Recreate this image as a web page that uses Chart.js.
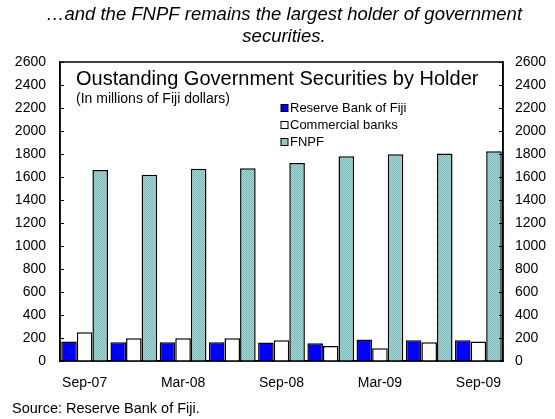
<!DOCTYPE html>
<html>
<head>
<meta charset="utf-8">
<script src="https://cdn.jsdelivr.net/npm/chart.js@4/dist/chart.umd.min.js"></script>
<style>
  html, body { margin: 0; padding: 0; background: #fff; }
  #wrap { width: 555px; height: 419px; position: relative; }
</style>
</head>
<body>
<div id="wrap"><canvas id="chart" width="555" height="419"></canvas></div>
<script>
// quarterly data, millions of Fiji dollars
const quarters = ['Sep-07', 'Dec-07', 'Mar-08', 'Jun-08', 'Sep-08', 'Dec-08', 'Mar-09', 'Jun-09', 'Sep-09'];
const reserveBank = [170, 163, 163, 163, 160, 155, 188, 180, 180];
const commercialBanks = [250, 197, 197, 197, 180, 130, 110, 163, 170];
const fnpf = [1660, 1620, 1672, 1677, 1722, 1780, 1797, 1805, 1825];
const seriesNames = ['Reserve Bank of Fiji', 'Commercial banks', 'FNPF'];
const yMax = 2600;
const yStep = 200;

const headline = ['\u2026and the FNPF remains the largest holder of government', 'securities.'];
const innerTitle = 'Oustanding Government Securities by Holder';
const innerSubtitle = '(In millions of Fiji dollars)';
const sourceNote = 'Source: Reserve Bank of Fiji.';

const FONT = '"Liberation Sans", Arial, sans-serif';

// dotted teal fill like the original
function makePattern() {
    const c = document.createElement('canvas');
    c.width = 2; c.height = 2;
    const g = c.getContext('2d');
    g.fillStyle = '#a9d3d3';
    g.fillRect(0, 0, 2, 2);
    g.fillStyle = '#7dbcbc';
    g.fillRect(0, 0, 1, 1);
    g.fillRect(1, 1, 1, 1);
    return g.createPattern(c, 'repeat');
}
const tealFill = makePattern();
const fills = ['#0000ff', '#ffffff', tealFill];

const decorations = {
    id: 'decorations',
    afterDraw(chart) {
        const ctx = chart.ctx;
        const a = chart.chartArea;
        ctx.save();

        // plot frame
        ctx.strokeStyle = '#000';
        ctx.lineWidth = 1.5;
        ctx.strokeRect(a.left, a.top, a.right - a.left, a.bottom - a.top);

        // inward tick marks on both value axes
        const y = chart.scales.y;
        ctx.lineWidth = 1;
        y.ticks.forEach(t => {
            const py = Math.round(y.getPixelForValue(t.value)) + 0.5;
            ctx.beginPath();
            ctx.moveTo(a.left, py); ctx.lineTo(a.left + 4, py);
            ctx.moveTo(a.right, py); ctx.lineTo(a.right - 4, py);
            ctx.stroke();
        });

        // headline
        ctx.fillStyle = '#000';
        ctx.textAlign = 'center';
        ctx.textBaseline = 'middle';
        ctx.font = 'italic 18.5px ' + FONT;
        ctx.fillText(headline[0], 284, 15);
        ctx.fillText(headline[1], 284, 37);

        // inner title
        ctx.textAlign = 'left';
        ctx.font = '20px ' + FONT;
        ctx.fillText(innerTitle, 76, 79);
        ctx.font = '14px ' + FONT;
        ctx.fillText(innerSubtitle, 76, 99);

        // legend
        chart.data.datasets.forEach((ds, i) => {
            const ly = 108 + i * 17;
            ctx.fillStyle = ds.backgroundColor;
            ctx.fillRect(281, ly - 3.5, 7, 7);
            ctx.strokeStyle = '#000';
            ctx.lineWidth = 1;
            ctx.strokeRect(281, ly - 3.5, 7, 7);
            ctx.fillStyle = '#000';
            ctx.font = '13px ' + FONT;
            ctx.fillText(ds.label, 290, ly);
        });

        // source
        ctx.font = '14.5px ' + FONT;
        ctx.fillText(sourceNote, 12, 409);
        ctx.restore();
    }
};

const valueTicks = {
    color: '#000',
    font: { family: FONT, size: 14 },
    stepSize: yStep,
    callback: v => String(v)
};

new Chart(document.getElementById('chart'), {
    type: 'bar',
    data: {
        labels: quarters,
        datasets: [reserveBank, commercialBanks, fnpf].map((values, i) => ({
            label: seriesNames[i],
            data: values,
            backgroundColor: fills[i],
            borderColor: '#000',
            borderWidth: 1.5,
            borderSkipped: 'bottom',
            categoryPercentage: 0.95,
            barPercentage: 1.0
        }))
    },
    options: {
        responsive: false,
        animation: false,
        events: [],
        layout: { padding: { top: 62, left: 0, right: 0, bottom: 0 } },
        plugins: { legend: { display: false }, tooltip: { enabled: false } },
        scales: {
            x: {
                grid: { display: false, drawTicks: false },
                border: { display: true, color: '#000', width: 1.5 },
                ticks: {
                    color: '#000',
                    font: { family: FONT, size: 14 },
                    padding: 14,
                    autoSkip: false,
                    maxRotation: 0,
                    callback: (v, i) => (i % 2 === 0 ? quarters[i] : '')
                },
                afterFit: s => { s.height = 58; }
            },
            y: {
                position: 'left',
                min: 0,
                max: yMax,
                grid: { display: false, drawTicks: false },
                border: { display: true, color: '#000', width: 1.5 },
                ticks: { ...valueTicks, padding: 14 },
                afterFit: s => { s.width = 60; }
            },
            y2: {
                position: 'right',
                min: 0,
                max: yMax,
                grid: { display: false, drawTicks: false },
                border: { display: true, color: '#000', width: 1.5 },
                ticks: { ...valueTicks, padding: 12 },
                afterFit: s => { s.width = 52; }
            }
        }
    },
    plugins: [decorations]
});
</script>
</body>
</html>
